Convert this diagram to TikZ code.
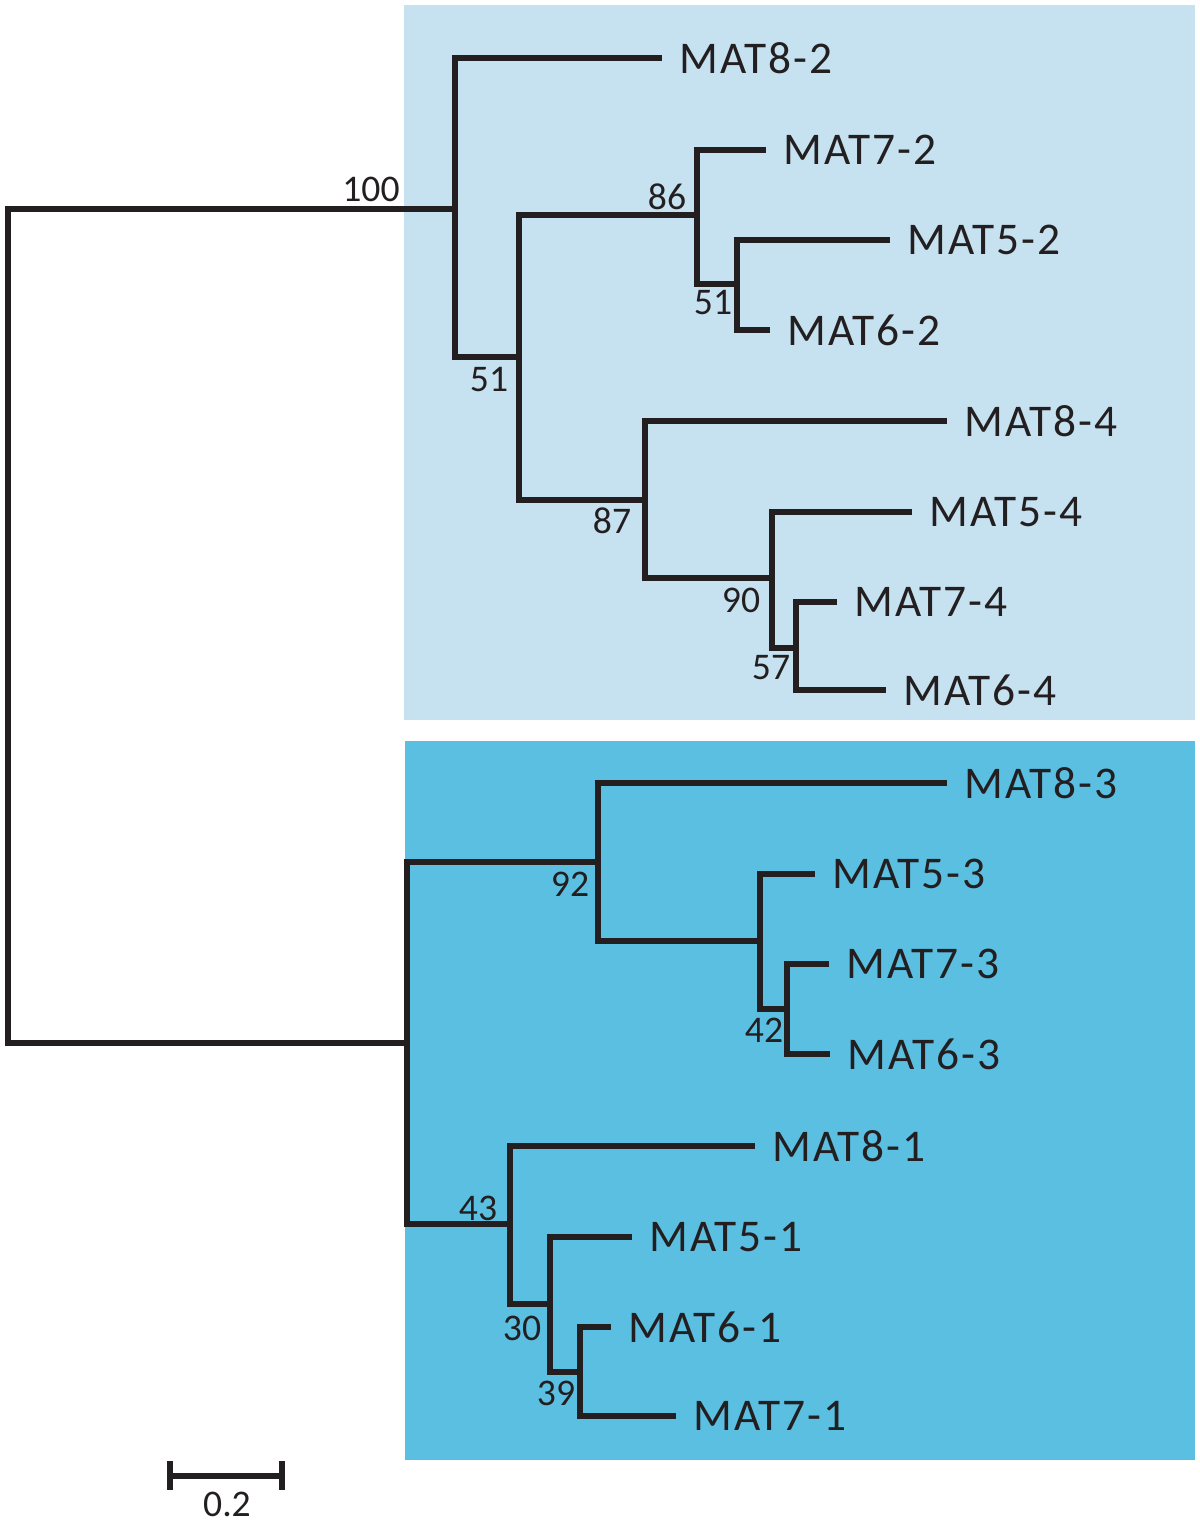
\documentclass[tikz,border=0pt]{standalone}
\usepackage{fontspec}
\setmainfont{Carlito}
\newfontfamily\leaffont[LetterSpace=4]{Carlito}
\usetikzlibrary{positioning, calc}
\definecolor{cladeA}{HTML}{C6E1F0}
\definecolor{cladeB}{HTML}{5BBFE2}
\definecolor{branchcol}{HTML}{231F20}
\tikzset{
  branch/.style={draw=branchcol, line width=1.6pt},
  leaf/.style={anchor=west, inner xsep=0.17cm, inner ysep=0pt, text=branchcol, font=\leaffont\fontsize{12.9}{14}\selectfont},
  boot/.style={inner sep=0pt, text=branchcol, font=\fontsize{10.7}{12}\selectfont},
}

\begin{document}
\begin{tikzpicture}[x=0.01cm, y=-0.01cm]
			\useasboundingbox (0,0) rectangle (1200,1521);
			\fill[cladeA] (404,5) rectangle (1195,720);
			\fill[cladeB] (405,741) rectangle (1195,1460);
			% internal nodes
			\coordinate (root) at (8,626);
			\coordinate (n100) at (455,209);
			\coordinate (n51a) at (519,357);
			\coordinate (n86) at (697,215);
			\coordinate (n51b) at (737,284);
			\coordinate (n87) at (645,500);
			\coordinate (n90) at (772,578);
			\coordinate (n57) at (796,648);
			\coordinate (nlow) at (407,1043);
			\coordinate (n92) at (598,862);
			\coordinate (nmid) at (760,941);
			\coordinate (n42) at (787,1009);
			\coordinate (n43) at (510,1224);
			\coordinate (n30) at (550,1304);
			\coordinate (n39) at (580,1372);
			% leaves
			\node[leaf] (m82) at (662,58) {MAT8-2};
			\node[leaf] (m72) at (766,150) {MAT7-2};
			\node[leaf] (m52) at (890,240) {MAT5-2};
			\node[leaf] (m62) at (770,330) {MAT6-2};
			\node[leaf] (m84) at (947,421) {MAT8-4};
			\node[leaf] (m54) at (912,512) {MAT5-4};
			\node[leaf] (m74) at (837,602) {MAT7-4};
			\node[leaf] (m64) at (886,690) {MAT6-4};
			\node[leaf] (m83) at (947,783) {MAT8-3};
			\node[leaf] (m53) at (815,874) {MAT5-3};
			\node[leaf] (m73) at (829,964) {MAT7-3};
			\node[leaf] (m63) at (830,1054) {MAT6-3};
			\node[leaf] (m81) at (755,1146) {MAT8-1};
			\node[leaf] (m51) at (632,1237) {MAT5-1};
			\node[leaf] (m61) at (611,1327) {MAT6-1};
			\node[leaf] (m71) at (676,1416) {MAT7-1};
			% branches
			\draw[branch] (root) |- (n100);
			\draw[branch] (root) |- (nlow);
			\draw[branch] (n100) |- (m82);
			\draw[branch] (n100) |- (n51a);
			\draw[branch] (n51a) |- (n86);
			\draw[branch] (n51a) |- (n87);
			\draw[branch] (n86) |- (m72);
			\draw[branch] (n86) |- (n51b);
			\draw[branch] (n51b) |- (m52);
			\draw[branch] (n51b) |- (m62);
			\draw[branch] (n87) |- (m84);
			\draw[branch] (n87) |- (n90);
			\draw[branch] (n90) |- (m54);
			\draw[branch] (n90) |- (n57);
			\draw[branch] (n57) |- (m74);
			\draw[branch] (n57) |- (m64);
			\draw[branch] (nlow) |- (n92);
			\draw[branch] (nlow) |- (n43);
			\draw[branch] (n92) |- (m83);
			\draw[branch] (n92) |- (nmid);
			\draw[branch] (nmid) |- (m53);
			\draw[branch] (nmid) |- (n42);
			\draw[branch] (n42) |- (m73);
			\draw[branch] (n42) |- (m63);
			\draw[branch] (n43) |- (m81);
			\draw[branch] (n43) |- (n30);
			\draw[branch] (n30) |- (m51);
			\draw[branch] (n30) |- (n39);
			\draw[branch] (n39) |- (m61);
			\draw[branch] (n39) |- (m71);
			% bootstrap values
			\node[boot] (b100) at (371,189) {100};
			\node[boot] (b51a) at (489,380) {51};
			\node[boot] (b86) at (667,197) {86};
			\node[boot] (b51b) at (713,303) {51};
			\node[boot] (b87) at (612,521) {87};
			\node[boot] (b90) at (741,600) {90};
			\node[boot] (b57) at (771,668) {57};
			\node[boot] (b92) at (570,884) {92};
			\node[boot] (b42) at (764,1030) {42};
			\node[boot] (b43) at (478,1208) {43};
			\node[boot] (b30) at (522,1328) {30};
			\node[boot] (b39) at (556,1393) {39};
			% scale bar
			\coordinate (sbL) at (170,1476);
			\coordinate (sbR) at (282,1476);
			\draw[branch] (sbL) -- (sbR);
			\draw[branch] ($(sbL)+(0,-15)$) -- ($(sbL)+(0,14)$);
			\draw[branch] ($(sbR)+(0,-15)$) -- ($(sbR)+(0,14)$);
			\node[boot] (sblabel) at (227,1504) {0.2};
		\end{tikzpicture}
\end{document}
